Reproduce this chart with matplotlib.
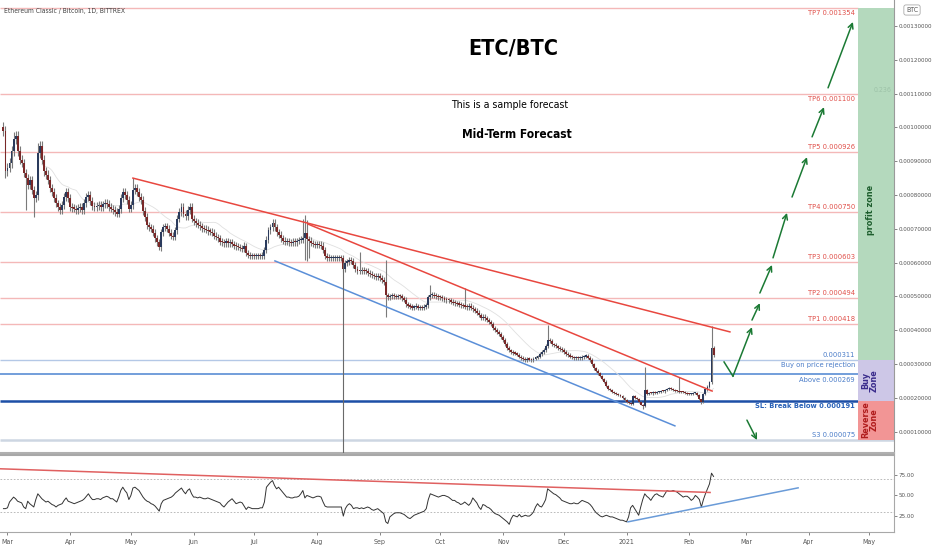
import numpy as np
import pandas as pd
import matplotlib.pyplot as plt
from matplotlib.patches import Rectangle
from matplotlib import font_manager
from matplotlib.font_manager import FontProperties


# 字体: 找窄体文件, 没有就用 DejaVu Sans 并缩小字号
def find_font(key):
    for f in font_manager.fontManager.ttflist:
        if f.fname.lower().endswith(key):
            return f.fname
    return None


reg = find_font('liberationsansnarrow-regular.ttf') or find_font('dejavusanscondensed.ttf')
bld = find_font('liberationsansnarrow-bold.ttf') or find_font('dejavusanscondensed-bold.ttf')
scale = 1.0 if reg else 0.85


def fp(size, bold=False):
    f = bld if bold else reg
    if f:
        return FontProperties(fname=f, size=size)
    return FontProperties(family='DejaVu Sans', size=size * scale,
                          weight='bold' if bold else 'normal')


# days counted from 1 Mar 2020, first candle = 28 Feb 2020
start_day = -2
open0_e6 = 1000
close_e6 = [
    990, 870, 880, 895, 930, 965, 975, 930, 905, 895,
    865, 850, 830, 845, 815, 790, 800, 925, 945, 905,
    870, 860, 845, 820, 810, 790, 775, 765, 755, 770,
    795, 810, 790, 765, 762, 760, 755, 762, 765, 756,
    776, 795, 800, 783, 767, 764, 768, 770, 765, 772,
    776, 773, 765, 760, 756, 750, 745, 760, 790, 808,
    800, 785, 760, 770, 815, 820, 808, 795, 785, 752,
    735, 711, 705, 700, 688, 672, 660, 646, 690, 705,
    708, 700, 688, 680, 676, 695, 730, 750, 764, 745,
    738, 756, 764, 730, 722, 717, 712, 708, 702, 700,
    697, 693, 692, 688, 680, 676, 672, 662, 660, 657,
    663, 657, 660, 655, 650, 648, 646, 643, 640, 650,
    628, 622, 620, 620, 619, 620, 620, 619, 621, 637,
    668, 695, 705, 717, 705, 690, 682, 672, 665, 661,
    664, 660, 658, 662, 660, 664, 667, 668, 672, 688,
    670, 665, 658, 655, 652, 655, 653, 650, 637, 620,
    615, 614, 614, 614, 614, 614, 614, 613, 580, 600,
    603, 608, 604, 593, 580, 576, 575, 578, 576, 574,
    570, 566, 562, 560, 557, 560, 554, 548, 543, 503,
    498, 501, 502, 500, 499, 501, 500, 495, 490, 477,
    473, 470, 467, 469, 472, 466, 468, 466, 470, 474,
    498, 504, 505, 502, 500, 498, 497, 495, 490, 489,
    488, 484, 481, 480, 478, 476, 474, 472, 470, 468,
    472, 467, 462, 458, 452, 445, 436, 440, 435, 430,
    425, 418, 407, 402, 396, 389, 380, 372, 360, 348,
    340, 335, 333, 331, 328, 322, 318, 315, 312, 316,
    313, 312, 316, 319, 322, 330, 336, 342, 353, 370,
    368, 358, 356, 352, 348, 345, 341, 335, 330, 327,
    322, 320, 318, 318, 317, 318, 321, 322, 324, 319,
    312, 300, 288, 280, 272, 265, 256, 248, 235, 226,
    223, 218, 214, 212, 208, 204, 200, 193, 188, 185,
    182, 205, 200, 196, 188, 180, 175, 223, 212, 215,
    213, 217, 214, 216, 217, 220, 219, 223, 226, 228,
    226, 223, 221, 220, 218, 217, 216, 214, 212, 211,
    212, 214, 215, 208, 195, 188, 212, 225, 233, 247,
    348, 327,
]
# long wicks (index: price e-6)
extra_high_e6 = {5: 985, 17: 955, 64: 850, 133: 722, 148: 730, 149: 741, 150: 725,
                 176: 631, 189: 608, 211: 534, 228: 525, 269: 415, 317: 291,
                 334: 262, 350: 412}
extra_low_e6 = {1: 850, 11: 756, 15: 735, 149: 608, 150: 605, 151: 615, 189: 439,
                316: 168, 345: 182}

rsi = [
    34, 34, 35, 42, 45, 48, 46, 43, 42, 41,
    36, 34, 43, 40, 38, 36, 45, 52, 49, 46,
    44, 42, 43, 41, 39, 38, 36, 38, 39, 40,
    44, 47, 43, 42, 41, 40, 41, 42, 43, 44,
    46, 49, 52, 48, 45, 45, 46, 46, 45, 47,
    48, 49, 48, 46, 46, 44, 42, 48, 56, 60,
    56, 53, 45, 50, 59, 60, 58, 56, 52, 48,
    45, 43, 42, 40, 39, 37, 34, 31, 40, 44,
    45, 46, 47, 48, 50, 53, 55, 57, 59, 55,
    52, 56, 58, 52, 48, 48, 47, 48, 47, 46,
    46, 47, 46, 45, 44, 43, 42, 41, 38, 36,
    39, 42, 44, 46, 43, 40, 41, 42, 41, 37,
    33, 36, 35, 34, 34, 34, 34, 35, 35, 42,
    60, 63, 66, 68, 62, 58, 60, 57, 54, 51,
    48, 48, 47, 47, 48, 48, 49, 52, 56, 47,
    50, 49, 48, 47, 48, 49, 49, 48, 42, 37,
    36, 36, 36, 36, 36, 36, 36, 36, 25, 34,
    38, 40, 38, 34, 35, 35, 34, 35, 34, 35,
    36, 35, 33, 32, 33, 34, 32, 30, 28, 18,
    16, 24, 26, 28, 29, 29, 29, 28, 27, 25,
    23, 22, 24, 26, 27, 28, 29, 30, 31, 34,
    45, 52, 51, 50, 49, 48, 49, 50, 50, 49,
    48, 46, 44, 44, 42, 41, 39, 40, 42, 40,
    38, 41, 47, 44, 41, 36, 33, 39, 38, 36,
    35, 33, 30, 28, 27, 26, 24, 22, 20, 18,
    15, 22, 26, 25, 24, 27, 24, 25, 26, 25,
    25, 27, 30, 36, 40, 37, 36, 40, 45, 58,
    56, 54, 52, 51, 49, 47, 44, 43, 42, 41,
    40, 40, 41, 40, 40, 42, 44, 43, 42, 41,
    39, 36, 32, 29, 27, 25, 24, 25, 26, 25,
    24, 24, 23, 22, 21, 20, 20, 19, 18, 24,
    35, 38, 34, 30, 26, 36, 45, 52, 49, 47,
    44, 48, 51, 52, 50, 49, 48, 52, 56, 55,
    55, 56, 55, 54, 52, 50, 48, 49, 49, 47,
    44, 46, 50, 48, 45, 36, 45, 52, 58, 64,
    77, 73,
]

month_days = [0, 31, 61, 92, 122, 153, 184, 214, 245, 275, 306, 337, 365, 396, 426]
month_labels = ['Mar', 'Apr', 'May', 'Jun', 'Jul', 'Aug', 'Sep', 'Oct', 'Nov', 'Dec',
                '2021', 'Feb', 'Mar', 'Apr', 'May']

tp_names = ['TP1', 'TP2', 'TP3', 'TP4', 'TP5', 'TP6', 'TP7']
tp_levels = [0.000418, 0.000494, 0.000603, 0.000750, 0.000926, 0.001100, 0.001354]
buy_top = 0.000311
buy_level = 0.000269
sl_level = 0.000191
s3_level = 0.000075

# trend lines (day, price)
red_long = [(62.0, 0.000850), (357.1, 0.000395)]
red_short = [(148.5, 0.000714), (348.3, 0.000220)]
blue_channel = [(132.2, 0.000605), (329.9, 0.000117)]
marker_day, marker_top = 165.8, 0.000602
rsi_red = [(-3.7, 82.3), (347.3, 53.6)]
rsi_blue = [(306.7, 18.0), (390.8, 59.2)]

# forecast path (start day, start price, end day, end price)
arrows_up = [
    (358.6, 0.000264, 368.0, 0.000409),
    (368.0, 0.000430, 371.9, 0.000480),
    (371.9, 0.000510, 377.9, 0.000593),
    (378.4, 0.000614, 385.3, 0.000747),
    (387.8, 0.000794, 395.2, 0.000912),
    (397.7, 0.000972, 403.6, 0.001060),
    (405.6, 0.001117, 417.9, 0.001312),
]
v_start = (354.2, 0.000306)
arrow_down = (365.5, 0.000134, 370.5, 0.000075)

zone_day = 420.4
x_min, x_max = -3.7, 438.2
y_min, y_max = 36.7e-6, 1376.9e-6
label_day = 418.9

W, H = 932, 550
fig = plt.figure(figsize=(W / 100, H / 100), dpi=100)
ax = fig.add_axes([0, 1 - 453 / H, 894 / W, 453 / H])
ax2 = fig.add_axes([0, 1 - 532 / H, 894 / W, 77 / H])

# 蜡烛图
c = np.array(close_e6) * 1e-6
o = np.concatenate([[open0_e6 * 1e-6], c[:-1]])
t = np.arange(len(c)) + start_day
wick = 0.015 * c
hi = np.maximum(o, c) + wick
lo = np.minimum(o, c) - wick
for i, v in extra_high_e6.items():
    hi[i] = max(hi[i], v * 1e-6)
for i, v in extra_low_e6.items():
    lo[i] = min(lo[i], v * 1e-6)
up = c >= o
body = np.maximum(np.abs(c - o), 3.5e-6)
ax.vlines(t, lo, hi, color='#7a7a7a', lw=0.8, zorder=3)
ax.bar(t[up], body[up], bottom=o[up], width=0.95, color='#2a3a5c', lw=0, zorder=4)
ax.bar(t[~up], body[~up], bottom=c[~up], width=0.95, color='#7a2828', lw=0, zorder=4)
sma = pd.Series(c).rolling(20).mean()
ax.plot(t, sma, color='#e0e0e0', lw=0.6, zorder=2)

# 水平线
for lvl in tp_levels:
    ax.hlines(lvl, x_min, zone_day, color='#f4b8b8', lw=1.0, zorder=1)
ax.hlines(buy_top, x_min, zone_day, color='#b4c8e6', lw=1.0, zorder=1)
ax.hlines(buy_level, x_min, zone_day, color='#5a8ed4', lw=1.2, zorder=1)
ax.hlines(sl_level, x_min, zone_day, color='#1d4fa6', lw=1.8, zorder=1)
ax.hlines(s3_level, x_min, x_max, color='#cdd6e2', lw=1.8, zorder=1)

# 趋势线
for line, col in [(red_long, '#e8473f'), (red_short, '#e8473f'), (blue_channel, '#5b8fd8')]:
    ax.plot([p[0] for p in line], [p[1] for p in line], color=col, lw=1.1, zorder=5)
ax.vlines(marker_day, y_min, marker_top, color='#6a6a6a', lw=0.8, zorder=5)

# 区域
ax.add_patch(Rectangle((zone_day, buy_top), x_max - zone_day, tp_levels[-1] - buy_top,
                       color='#b4d9bd', lw=0, zorder=1))
ax.add_patch(Rectangle((zone_day, sl_level), x_max - zone_day, buy_top - sl_level,
                       color='#cdc7e7', lw=0, zorder=1))
ax.add_patch(Rectangle((zone_day, s3_level), x_max - zone_day, sl_level - s3_level,
                       color='#f29595', lw=0, zorder=1))
zx = 426.4
ax.text(zx, 0.000756, 'profit zone', rotation=90, ha='center', va='center',
        fontproperties=fp(6.5, True), color='#1e5e2e', zorder=6)
ax.text(zx, 0.000250, 'Buy\nZone', rotation=90, ha='center', va='center',
        fontproperties=fp(6.5, True), color='#3a2c8c', linespacing=0.85, zorder=6)
ax.text(zx, 0.000134, 'Reverse\nZone', rotation=90, ha='center', va='center',
        fontproperties=fp(6.5, True), color='#b01c1c', linespacing=0.85, zorder=6)
ax.text(432.3, 0.001110, '0.236', ha='center', va='center', fontproperties=fp(5),
        color='#9dc2a8', zorder=6)


# 标签
def label(txt, lvl, above, color, bold=False):
    ax.annotate(txt, xy=(label_day, lvl), xytext=(0, 1.5 if above else -1.5),
                textcoords='offset points', ha='right',
                va='bottom' if above else 'top', fontproperties=fp(5.4, bold),
                color=color, zorder=6)


for name, lvl in zip(tp_names, tp_levels):
    label('%s %.6f' % (name, lvl), lvl, name not in ('TP6', 'TP7'), '#e0504a')
label('%.6f' % buy_top, buy_top, True, '#4a7cc8')
label('Buy on price rejection', buy_top, False, '#4a7cc8')
label('Above %.6f' % buy_level, buy_level, False, '#4a7cc8')
label('SL: Break Below %.6f' % sl_level, sl_level, False, '#2a62b8', bold=True)
label('S3 %.6f' % s3_level, s3_level, True, '#4a7cc8')

# 预测箭头
green = '#1b7a34'
ax.plot([v_start[0], arrows_up[0][0]], [v_start[1], arrows_up[0][1]], color=green, lw=1.1, zorder=6)
for x0, y0, x1, y1 in arrows_up + [arrow_down]:
    ax.annotate('', xy=(x1, y1), xytext=(x0, y0),
                arrowprops=dict(arrowstyle='->', color=green, lw=1.1,
                                mutation_scale=9, shrinkA=0, shrinkB=0), zorder=6)

ax.set_xlim(x_min, x_max)
ax.set_ylim(y_min, y_max)
ax.yaxis.tick_right()
ax.set_yticks(np.arange(1, 14) * 1e-4)
ax.set_yticklabels(['%.8f' % v for v in np.arange(1, 14) * 1e-4])
ax.set_xticks([])
ax.tick_params(axis='y', colors='#555555', length=2, width=0.5, pad=1)
for lbl in ax.get_yticklabels():
    lbl.set_fontproperties(fp(4.5))
for s in ['top', 'left']:
    ax.spines[s].set_visible(False)
ax.spines['right'].set_color('#9a9a9a')
ax.spines['right'].set_linewidth(0.8)
ax.spines['bottom'].set_color('#b0b0b0')
ax.spines['bottom'].set_linewidth(1.5)

# RSI
ax2.plot(t, rsi, color='#333333', lw=0.7, zorder=3)
ax2.hlines([70, 30], x_min, x_max, color='#b0b0b0', lw=0.6, linestyles=(0, (2, 2)), zorder=1)
for line, col in [(rsi_red, '#e06060'), (rsi_blue, '#6a9bd8')]:
    ax2.plot([p[0] for p in line], [p[1] for p in line], color=col, lw=1.1, zorder=4)
ax2.set_xlim(x_min, x_max)
ax2.set_ylim(5.7, 99)
ax2.yaxis.tick_right()
ax2.set_yticks([25, 50, 75])
ax2.set_yticklabels(['25.00', '50.00', '75.00'])
ax2.set_xticks(month_days)
ax2.set_xticklabels(month_labels)
ax2.tick_params(colors='#555555', length=2, width=0.5, pad=1)
ax2.tick_params(axis='x', pad=3)
for lbl in ax2.get_yticklabels():
    lbl.set_fontproperties(fp(4.5))
for lbl in ax2.get_xticklabels():
    lbl.set_fontproperties(fp(5))
ax2.spines['left'].set_visible(False)
for s in ['top', 'right', 'bottom']:
    ax2.spines[s].set_color('#a8a8a8')
ax2.spines['top'].set_linewidth(1.5)


# 文字
def ftext(x, y, s, **kw):
    fig.text(x / W, 1 - y / H, s, **kw)


ftext(4, 11, 'Ethereum Classic / Bitcoin, 1D, BITTREX', fontproperties=fp(4.9),
      color='#444444', va='center')
ftext(513, 48, 'ETC/BTC', fontproperties=fp(15.5, True), ha='center', va='center')
ftext(510, 105, 'This is a sample forecast', fontproperties=fp(7.6), ha='center', va='center')
ftext(517, 134, 'Mid-Term Forecast', fontproperties=fp(8.6, True), ha='center', va='center')
ftext(912, 10, 'BTC', fontproperties=fp(5), color='#555555', ha='center', va='center',
      bbox=dict(boxstyle='round,pad=0.3', fc='white', ec='#aaaaaa', lw=0.6))

fig.savefig('out.png', dpi=100)
